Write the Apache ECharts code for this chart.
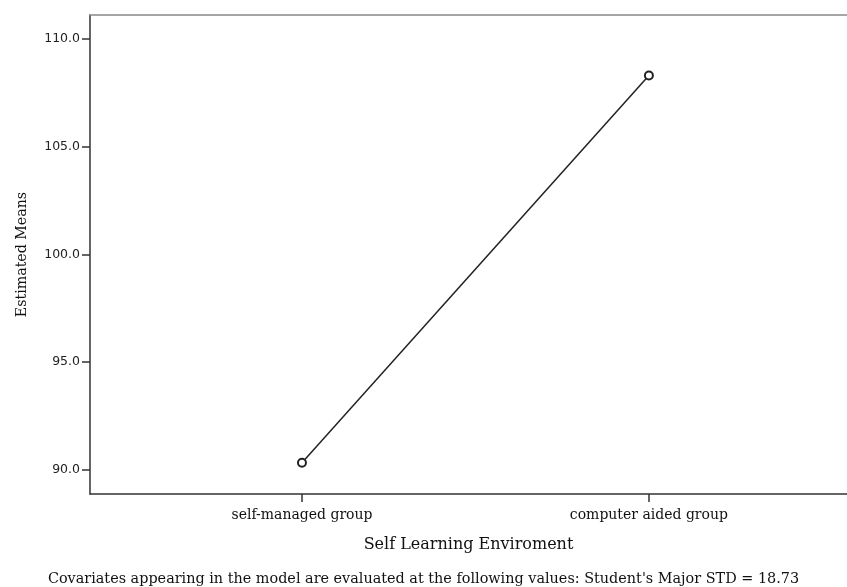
<!DOCTYPE html>
<html>
<head>
<meta charset="utf-8">
<script src="https://cdn.jsdelivr.net/npm/echarts@6/dist/echarts.min.js"></script>
<style>html,body{margin:0;padding:0;background:#fff}#c{width:847px;height:587px}</style>
</head>
<body>
<div id="c"></div>
<script>
const categories = ['self-managed group', 'computer aided group'];
const estimatedMeans = [90.34, 108.30];
const yTicks = [90, 95, 100, 105, 110];
const xAxisTitle = 'Self Learning Enviroment';
const yAxisTitle = 'Estimated Means';
const footnote = "Covariates appearing in the model are evaluated at the following values: Student's Major STD = 18.73";

const chart = echarts.init(document.getElementById('c'));
const serif = '"DejaVu Serif", "Liberation Serif", serif';
const sans = '"DejaVu Sans", "Liberation Sans", Arial, sans-serif';
const catIdx = categories.map((c, i) => i);

chart.setOption({
  animation: false,
  backgroundColor: '#fff',
  grid: { left: 90, top: 15, right: 0, bottom: 93, outerBoundsMode: 'none', containLabel: false },
  xAxis: [{
    type: 'value',
    min: -0.611, max: 1.571,
    splitLine: { show: false },
    axisLine: { show: true, onZero: false, lineStyle: { color: '#333', width: 1.5 } },
    axisTick: { show: true, customValues: catIdx, length: 8, lineStyle: { color: '#333', width: 1.5 } },
    axisLabel: {
      customValues: catIdx,
      formatter: v => categories[Math.round(v)] || '',
      fontFamily: serif, fontSize: 14, color: '#111', margin: 14
    },
    name: xAxisTitle,
    nameLocation: 'middle',
    nameGap: 43,
    nameTextStyle: { fontFamily: serif, fontSize: 16, color: '#111' }
  }, {
    type: 'value', position: 'top',
    min: -0.611, max: 1.571,
    splitLine: { show: false },
    axisLine: { show: true, onZero: false, lineStyle: { color: '#888', width: 1.5 } },
    axisTick: { show: false }, axisLabel: { show: false }
  }],
  yAxis: {
    type: 'value',
    min: 88.886, max: 111.11,
    splitLine: { show: false },
    axisLine: { show: true, onZero: false, lineStyle: { color: '#333', width: 1.5 } },
    axisTick: { show: true, customValues: yTicks, length: 8, lineStyle: { color: '#333', width: 1.5 } },
    axisLabel: {
      customValues: yTicks,
      formatter: v => v.toFixed(1),
      fontFamily: sans, fontSize: 12.5, color: '#222', margin: 10
    },
    name: yAxisTitle,
    nameLocation: 'middle',
    nameGap: 61,
    nameRotate: 90,
    nameTextStyle: { fontFamily: serif, fontSize: 14.2, color: '#111' }
  },
  series: [{
    type: 'line',
    data: estimatedMeans.map((v, i) => [catIdx[i], v]),
    symbol: 'emptyCircle',
    symbolSize: 8,
    lineStyle: { color: '#222', width: 1.5 },
    itemStyle: { color: '#222', borderColor: '#222', borderWidth: 1.3 }
  }],
  graphic: [{
    type: 'text',
    left: 'center',
    top: 572,
    style: { text: footnote, font: '14.4px ' + serif, fill: '#111' }
  }]
});
</script>
</body>
</html>
